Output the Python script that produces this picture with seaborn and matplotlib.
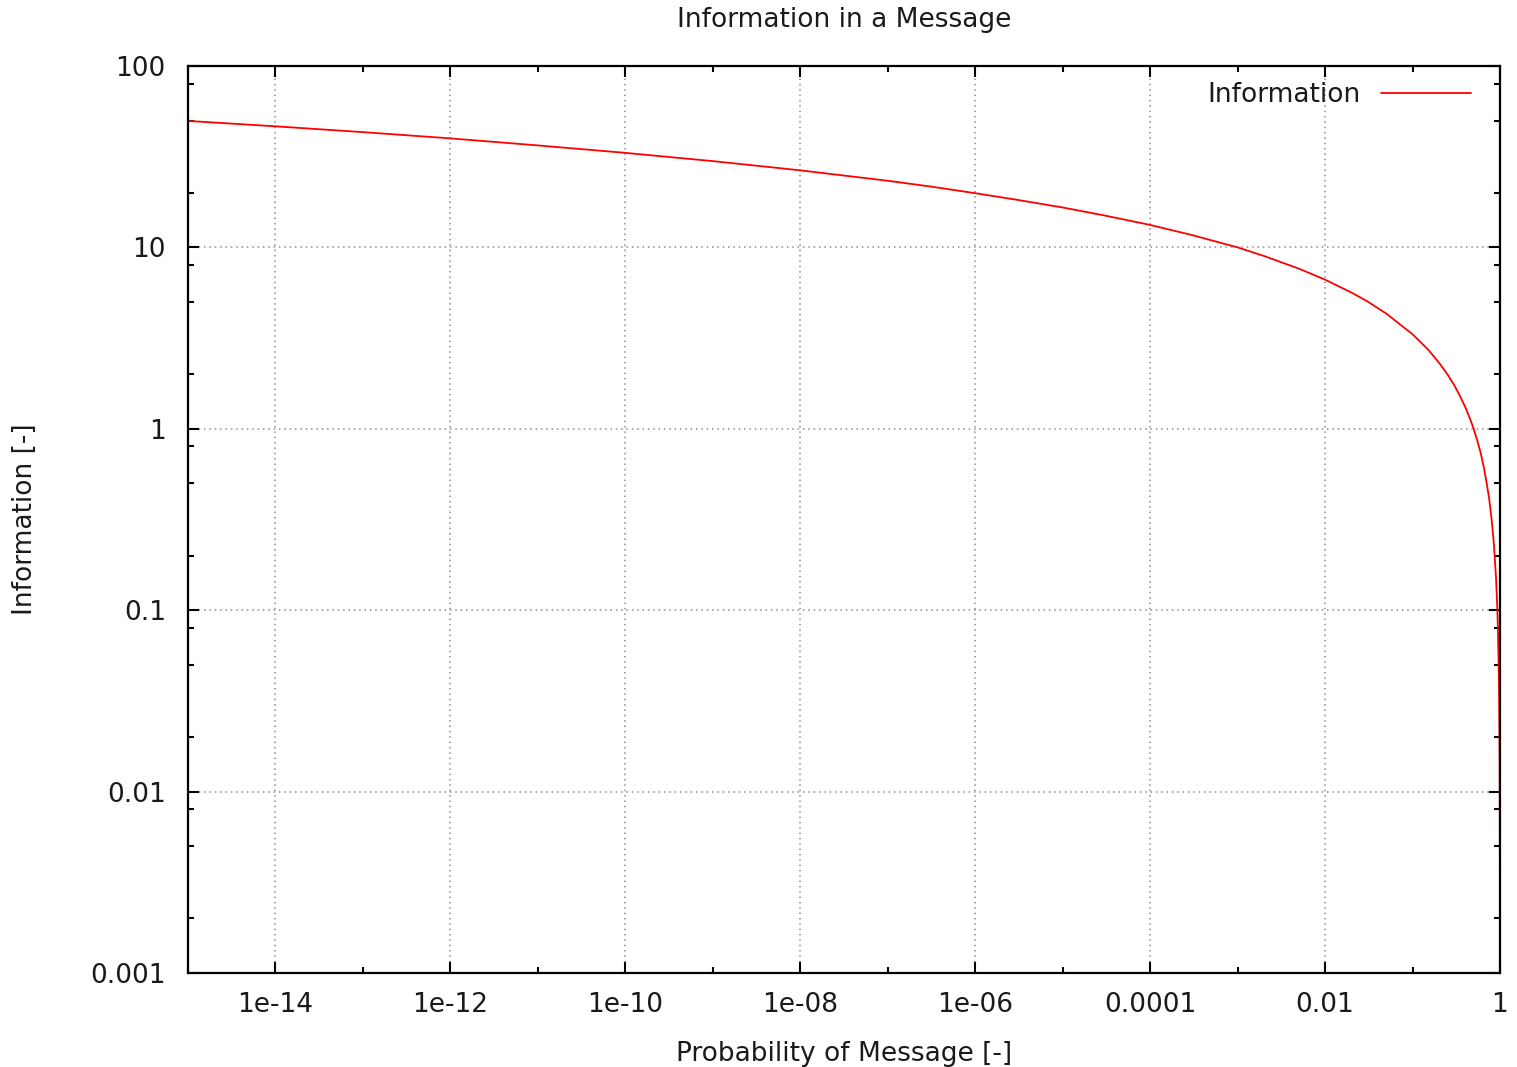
import pandas as pd
import matplotlib
matplotlib.use("Agg")
import matplotlib.pyplot as plt
import matplotlib.ticker as mticker
import seaborn as sns

# values
prob = [1e-15, 1e-14, 1e-13, 1e-12, 1e-11, 1e-10, 1e-9, 1e-8, 1e-7, 3e-7,
        1e-6, 3e-6, 1e-5, 3e-5, 1e-4, 3e-4, 1e-3, 2e-3, 5e-3, 0.01, 0.02,
        0.03, 0.05, 0.1, 0.15, 0.2, 0.25, 0.3, 0.35, 0.4, 0.45, 0.5, 0.55,
        0.6, 0.65, 0.7, 0.75, 0.8, 0.85, 0.9, 0.93, 0.95, 0.97, 0.98, 0.99,
        0.995, 0.999, 0.9999]
info = [49.8, 46.5, 43.2, 39.9, 36.5, 33.2, 29.9, 26.6, 23.3, 21.7,
        19.9, 18.3, 16.6, 15.0, 13.3, 11.7, 10.0, 8.97, 7.64, 6.64, 5.64,
        5.06, 4.32, 3.32, 2.74, 2.32, 2.0, 1.74, 1.51, 1.32, 1.15, 1.0, 0.86,
        0.74, 0.62, 0.51, 0.415, 0.32, 0.234, 0.152, 0.105, 0.074, 0.044, 0.029, 0.0145,
        0.0072, 0.00144, 0.000144]

x_ticks = [1e-14, 1e-12, 1e-10, 1e-8, 1e-6, 1e-4, 1e-2, 1]
x_labels = ['1e-14', '1e-12', '1e-10', '1e-08', '1e-06', '0.0001', '0.01', '1']
x_minor = [1e-15, 1e-13, 1e-11, 1e-9, 1e-7, 1e-5, 1e-3, 1e-1]
y_ticks = [0.001, 0.01, 0.1, 1, 10, 100]
y_labels = ['0.001', '0.01', '0.1', '1', '10', '100']

df = pd.DataFrame({'Probability': prob, 'Information': info})

sns.set_theme(style="ticks")
plt.rcParams['font.family'] = ['DejaVu Sans']
plt.rcParams['text.color'] = '#1a1a1a'
plt.rcParams['axes.labelcolor'] = '#1a1a1a'

fig = plt.figure(figsize=(15.17, 10.67), dpi=100)
ax = fig.add_axes([188 / 1517, 1 - 973 / 1067, (1500 - 188) / 1517, (973 - 66) / 1067])

sns.lineplot(data=df, x='Probability', y='Information', ax=ax, color='#ff0000',
             linewidth=1.3, estimator=None, sort=False, label='Information')

ax.set_xscale('log')
ax.set_yscale('log')
ax.set_xlim(1e-15, 1)
ax.set_ylim(0.001, 100)

ax.xaxis.set_major_locator(mticker.FixedLocator(x_ticks))
ax.xaxis.set_major_formatter(mticker.FixedFormatter(x_labels))
ax.xaxis.set_minor_locator(mticker.FixedLocator(x_minor))
ax.xaxis.set_minor_formatter(mticker.NullFormatter())
y_minor = [d * m for d in y_ticks[:-1] for m in (2, 5, 8)]
ax.yaxis.set_major_locator(mticker.FixedLocator(y_ticks))
ax.yaxis.set_major_formatter(mticker.FixedFormatter(y_labels))
ax.yaxis.set_minor_locator(mticker.FixedLocator(y_minor))
ax.yaxis.set_minor_formatter(mticker.NullFormatter())

ax.tick_params(which='both', direction='in', top=True, right=True, colors='black',
               labelcolor='#1a1a1a', width=1.5, labelsize=19)
ax.tick_params(which='major', length=8, pad=14)
ax.tick_params(which='minor', length=4)
ax.tick_params(axis='y', pad=16)

ax.grid(True, which='major', color='#8c8c8c', linestyle=(0, (1, 2.5)), linewidth=1.1)
for s in ax.spines.values():
    s.set_color('black')
    s.set_linewidth(1.6)

ax.set_title('Information in a Message', fontsize=19, pad=28)
ax.set_xlabel('Probability of Message [-]', fontsize=19, labelpad=16)
ax.set_ylabel('Information [-]', fontsize=19, labelpad=38)

ax.legend(loc='upper right', frameon=False, markerfirst=False, fontsize=19,
          handlelength=3.4, borderaxespad=0.2, bbox_to_anchor=(0.99, 1.0))

fig.savefig('out.png', dpi=100)
